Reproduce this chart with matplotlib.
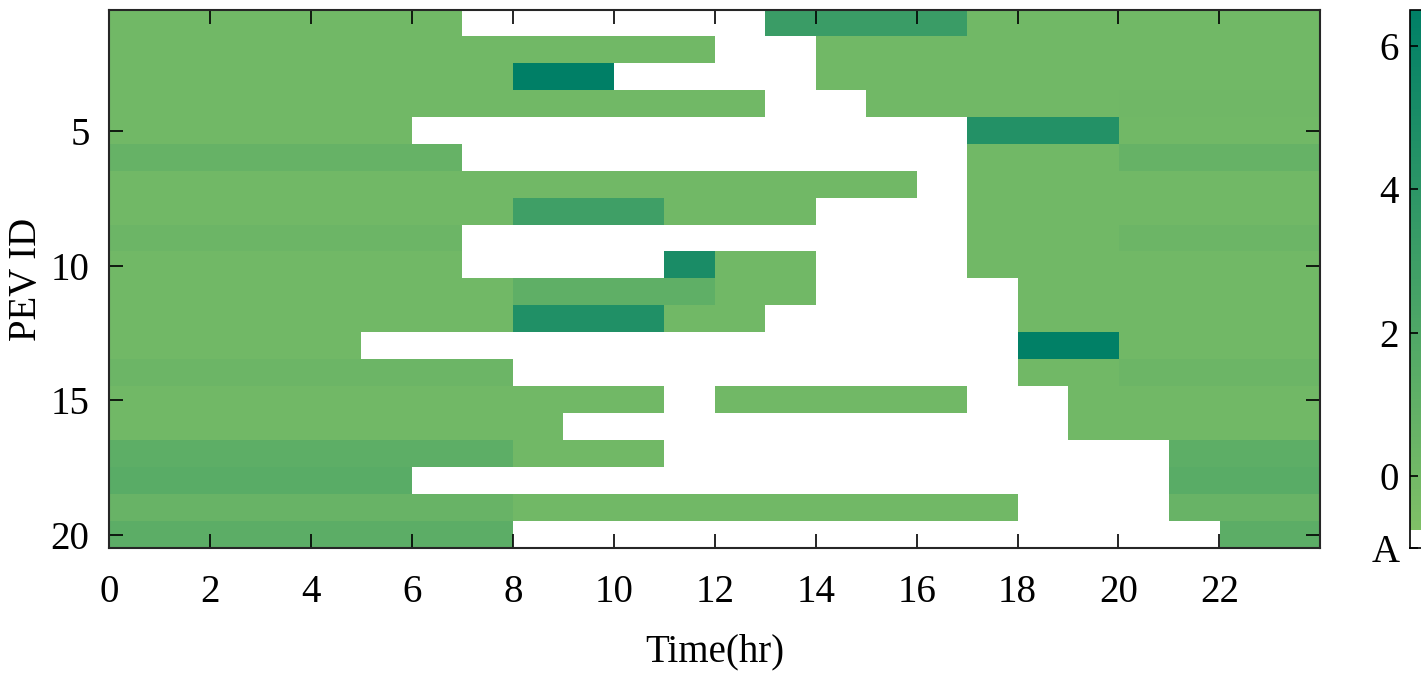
"""PEV charging schedule heat map (hour x vehicle)"""

import numpy as np
import matplotlib

matplotlib.use("Agg")
import matplotlib.pyplot as plt
from matplotlib.colors import ListedColormap, Normalize

A = np.nan  # vehicle away

hours = list(range(24))
pev_ids = list(range(1, 21))

x_ticks = list(range(0, 24, 2))
y_ticks = [5, 10, 15, 20]
cbar_ticks = [-1, 0, 2, 4, 6]
cbar_labels = ["A", "0", "2", "4", "6"]

# one row per PEV, one value per hour
charge = [
    [0, 0, 0, 0, 0, 0, 0, A, A, A, A, A, A, 3.2, 3.2, 3.2, 3.2, 0, 0, 0, 0, 0, 0, 0],
    [0, 0, 0, 0, 0, 0, 0, 0, 0, 0, 0, 0, A, A, 0, 0, 0, 0, 0, 0, 0, 0, 0, 0],
    [0, 0, 0, 0, 0, 0, 0, 0, 6.5, 6.5, A, A, A, A, 0, 0, 0, 0, 0, 0, 0, 0, 0, 0],
    [0, 0, 0, 0, 0, 0, 0, 0, 0, 0, 0, 0, 0, A, A, 0, 0, 0, 0, 0, 0.15, 0.15, 0.15, 0.15],
    [0, 0, 0, 0, 0, 0, A, A, A, A, A, A, A, A, A, A, A, 4.5, 4.5, 4.5, 0, 0, 0, 0],
    [0.7, 0.7, 0.7, 0.7, 0.7, 0.7, 0.7, A, A, A, A, A, A, A, A, A, A, 0, 0, 0, 0.7, 0.7, 0.7, 0.7],
    [0, 0, 0, 0, 0, 0, 0, 0, 0, 0, 0, 0, 0, 0, 0, 0, A, 0, 0, 0, 0, 0, 0, 0],
    [0, 0, 0, 0, 0, 0, 0, 0, 2.9, 2.9, 2.9, 0, 0, 0, A, A, A, 0, 0, 0, 0, 0, 0, 0],
    [0.35, 0.35, 0.35, 0.35, 0.35, 0.35, 0.35, A, A, A, A, A, A, A, A, A, A, 0, 0, 0, 0.35, 0.35, 0.35, 0.35],
    [0, 0, 0, 0, 0, 0, 0, A, A, A, A, 5.0, 0, 0, A, A, A, 0, 0, 0, 0, 0, 0, 0],
    [0, 0, 0, 0, 0, 0, 0, 0, 1.1, 1.1, 1.1, 1.1, 0, 0, A, A, A, A, 0, 0, 0, 0, 0, 0],
    [0, 0, 0, 0, 0, 0, 0, 0, 4.6, 4.6, 4.6, 0, 0, A, A, A, A, A, 0, 0, 0, 0, 0, 0],
    [0, 0, 0, 0, 0, A, A, A, A, A, A, A, A, A, A, A, A, A, 6.4, 6.4, 0, 0, 0, 0],
    [0.35, 0.35, 0.35, 0.35, 0.35, 0.35, 0.35, 0.35, A, A, A, A, A, A, A, A, A, A, 0, 0, 0.35, 0.35, 0.35, 0.35],
    [0, 0, 0, 0, 0, 0, 0, 0, 0, 0, 0, A, 0, 0, 0, 0, 0, A, A, 0, 0, 0, 0, 0],
    [0, 0, 0, 0, 0, 0, 0, 0, 0, A, A, A, A, A, A, A, A, A, A, 0, 0, 0, 0, 0],
    [1.2, 1.2, 1.2, 1.2, 1.2, 1.2, 1.2, 1.2, 0, 0, 0, A, A, A, A, A, A, A, A, A, A, 1.2, 1.2, 1.2],
    [1.45, 1.45, 1.45, 1.45, 1.45, 1.45, A, A, A, A, A, A, A, A, A, A, A, A, A, A, A, 1.45, 1.45, 1.45],
    [0.6, 0.6, 0.6, 0.6, 0.6, 0.6, 0.6, 0.6, 0, 0, 0, 0, 0, 0, 0, 0, 0, 0, A, A, A, 0.6, 0.6, 0.6],
    [1.25, 1.25, 1.25, 1.25, 1.25, 1.25, 1.25, 1.25, A, A, A, A, A, A, A, A, A, A, A, A, A, A, 1.25, 1.25],
]


def make_cmap():
    """White slot for 'away' below a reversed half of the summer map"""
    n_white = 10
    n_green = 290
    summer = plt.get_cmap("summer")
    greens = summer(np.linspace(0.5, 0.0, n_green))
    whites = np.ones((n_white, 4))
    return ListedColormap(np.vstack([whites, greens]))


def plot_data(values):
    plt.rcParams.update({"font.family": "Liberation Serif", "font.size": 28})
    fig = plt.figure(figsize=(14.21, 6.73), dpi=100)
    ax = fig.add_axes([0.0767, 0.1857, 0.8525, 0.7995])
    cax = fig.add_axes([0.9925, 0.1857, 0.03, 0.7995])

    grid = np.array(values, dtype=float)
    grid = np.where(np.isnan(grid), -1.0, grid)

    im = ax.imshow(
        grid,
        cmap=make_cmap(),
        norm=Normalize(vmin=-1, vmax=6.5),
        extent=(hours[0], hours[-1] + 1, pev_ids[-1] + 0.5, pev_ids[0] - 0.5),
        aspect="auto",
        interpolation="nearest",
    )

    ax.set_xticks(x_ticks)
    ax.set_yticks(y_ticks)
    ax.tick_params(direction="in", length=10, width=1.2, top=True, right=True)
    ax.tick_params(axis="x", pad=19)
    ax.tick_params(axis="y", pad=14)
    for spine in ax.spines.values():
        spine.set_linewidth(1.5)
        spine.set_color("#262626")

    ax.set_xlabel("Time(hr)", labelpad=16)
    ax.set_ylabel("PEV ID", labelpad=4)

    cbar = fig.colorbar(im, cax=cax, ticks=cbar_ticks)
    cbar.ax.set_yticklabels(cbar_labels)
    cax.yaxis.set_ticks_position("left")
    cax.yaxis.set_label_position("left")
    cax.tick_params(direction="in", length=6, width=1.2, pad=8)
    cbar.outline.set_linewidth(1.2)

    fig.savefig("out.png", dpi=100)
    plt.close(fig)


if __name__ == "__main__":
    plot_data(charge)
